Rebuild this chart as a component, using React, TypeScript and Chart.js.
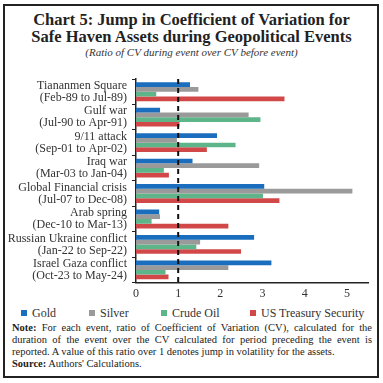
import React, { useEffect, useRef } from "react";
import { Chart, registerables } from "chart.js";

Chart.register(...registerables);

const categories: string[][] = [
  ["Tiananmen Square", "(Feb-89 to Jul-89)"],
  ["Gulf war", "(Jul-90 to Apr-91)"],
  ["9/11 attack", "(Sep-01 to Apr-02)"],
  ["Iraq war", "(Mar-03 to Jan-04)"],
  ["Global Financial crisis", "(Jul-07 to Dec-08)"],
  ["Arab spring", "(Dec-10 to Mar-13)"],
  ["Russian Ukraine conflict", "(Jan-22 to Sep-22)"],
  ["Israel Gaza conflict", "(Oct-23 to May-24)"],
];

const seriesNames = ["Gold", "Silver", "Crude Oil", "US Treasury Security"];
const gold = [1.28, 0.57, 1.92, 1.34, 3.04, 0.55, 2.8, 3.21];
const silver = [1.48, 2.67, 0.97, 2.92, 5.13, 0.57, 1.52, 2.19];
const crudeOil = [0.48, 2.95, 2.36, 0.66, 3.01, 0.37, 1.43, 0.7];
const usTreasury = [3.52, 1.03, 1.68, 0.78, 3.4, 2.19, 2.49, 0.77];

const xTicks = [0, 1, 2, 3, 4, 5];
const threshold = 1;

const colors = ["#1a6ebd", "#9a9a9a", "#5fb58a", "#d24848"];
const legendLeft = [21, 89, 161, 250];

const serif = "'Liberation Serif', 'DejaVu Serif', serif";

const thresholdLine = {
  id: "thresholdLine",
  afterDatasetsDraw(chart: any) {
    const { ctx, chartArea, scales } = chart;
    const x = scales.x.getPixelForValue(threshold);
    ctx.save();
    ctx.strokeStyle = "#111";
    ctx.lineWidth = 2;
    ctx.setLineDash([5, 4]);
    ctx.beginPath();
    ctx.moveTo(x, chartArea.top);
    ctx.lineTo(x, chartArea.bottom);
    ctx.stroke();
    ctx.restore();
  },
};

export default function App() {
  const ref = useRef<HTMLCanvasElement>(null);
  useEffect(() => {
    if (!ref.current) return;
    const series = [gold, silver, crudeOil, usTreasury];
    const chart = new Chart(ref.current, {
      type: "bar",
      data: {
        labels: categories as any,
        datasets: series.map((d, i) => ({
          label: seriesNames[i],
          data: d,
          backgroundColor: colors[i],
        })),
      },
      options: {
        indexAxis: "y",
        animation: false,
        responsive: false,
        maintainAspectRatio: false,
        datasets: { bar: { categoryPercentage: 0.74, barPercentage: 1.0 } },
        layout: { padding: { left: 0, right: 15, top: 8, bottom: 0 } },
        scales: {
          x: {
            min: 0,
            max: 5.5,
            afterBuildTicks(scale: any) {
              scale.ticks = xTicks.map((v) => ({ value: v }));
            },
            grid: { display: false, drawTicks: false },
            border: { display: true, color: "#222", width: 1.5 },
            ticks: {
              color: "#333",
              font: { family: serif, size: 12 },
              padding: 4,
            },
          },
          y: {
            afterFit(scale: any) {
              scale.width = 136;
            },
            grid: {
              display: true,
              drawOnChartArea: false,
              drawTicks: true,
              tickLength: 4,
              color: "#222",
              offset: true,
            },
            border: { display: true, color: "#222", width: 1.5 },
            ticks: {
              autoSkip: false,
              color: "#333",
              font: { family: serif, size: 12, lineHeight: 1.0 },
              padding: 5,
            },
          },
        },
        plugins: {
          legend: { display: false },
          tooltip: { enabled: false },
        },
      },
      plugins: [thresholdLine],
    });
    return () => chart.destroy();
  }, []);

  return (
    <div style={{ position: "absolute", left: 0, top: 0, width: 383, height: 383, fontFamily: serif, color: "#222" }}>
      <div
        style={{
          position: "absolute",
          left: 3,
          top: 4,
          width: 372,
          height: 370,
          border: "2px solid #222",
        }}
      />
      <div
        style={{
          position: "absolute",
          left: 0,
          top: 11,
          width: 383,
          textAlign: "center",
          fontWeight: "bold",
          fontSize: 16.5,
          lineHeight: "17px",
          color: "#222",
        }}
      >
        Chart 5: Jump in Coefficient of Variation for
        <br />
        Safe Haven Assets during Geopolitical Events
      </div>
      <div
        style={{
          position: "absolute",
          left: 0,
          top: 46,
          width: 383,
          textAlign: "center",
          fontStyle: "italic",
          fontSize: 11,
          color: "#333",
        }}
      >
        (Ratio of CV during event over CV before event)
      </div>
      <canvas ref={ref} width={383} height={243} style={{ position: "absolute", left: 0, top: 62 }} />
      {seriesNames.map((name, i) => (
        <div
          key={name}
          style={{
            position: "absolute",
            left: legendLeft[i],
            top: 306,
            height: 14,
            display: "flex",
            alignItems: "center",
            fontSize: 12,
            color: "#333",
            whiteSpace: "nowrap",
          }}
        >
          <span style={{ display: "inline-block", width: 6, height: 6, background: colors[i], marginRight: 5 }} />
          {name}
        </div>
      ))}
      <div
        style={{
          position: "absolute",
          left: 12,
          top: 322,
          width: 360,
          fontSize: 10.5,
          lineHeight: "12px",
          color: "#222",
          textAlign: "justify",
        }}
      >
        <b>Note:</b> For each event, ratio of Coefficient of Variation (CV), calculated for the duration of the event
        over the CV calculated for period preceding the event is reported. A value of this ratio over 1 denotes jump in
        volatility for the assets.
        <br />
        <b>Source:</b> Authors' Calculations.
      </div>
    </div>
  );
}
